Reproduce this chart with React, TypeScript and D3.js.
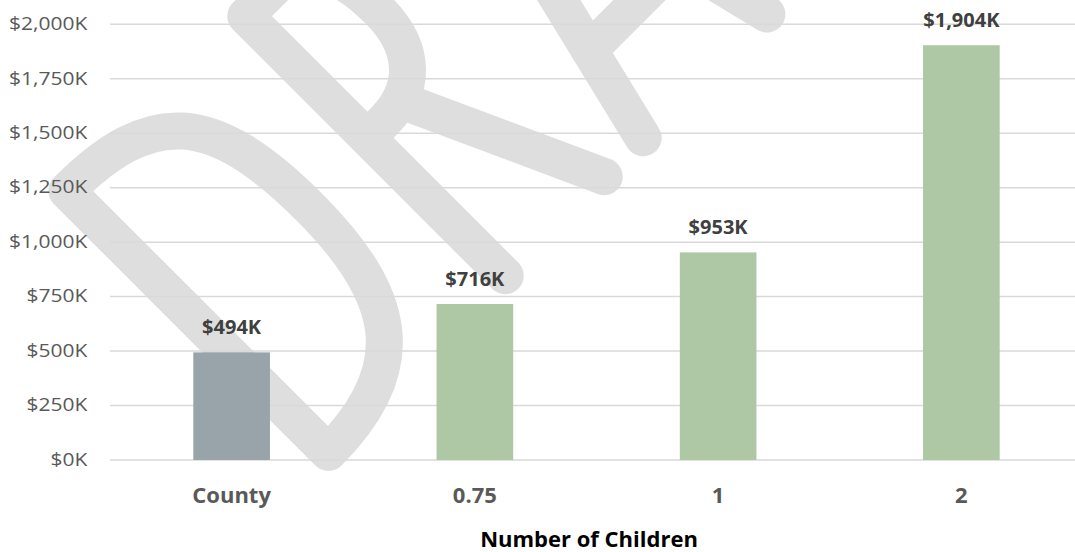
import React from "react";
import * as d3 from "d3";

const categories = ["County", "0.75", "1", "2"];
const values = [494, 716, 953, 1904]; // thousands of dollars
const barColors = ["#98A4A9", "#AEC7A4", "#AEC7A4", "#AEC7A4"];
const yTicks = [0, 250, 500, 750, 1000, 1250, 1500, 1750, 2000];
const xAxisTitle = "Number of Children";

// watermark strokes in a letter frame (u along reading direction, y = -height)
const watermarkStrokes = [
  "M0,-5 L0,-375 C118,-375 160,-330 160,-192 C160,-70 122,-5 0,-5 Z",
  "M250,-5 L250,-372 L292,-372 C338,-372 348,-325 348,-282 C348,-228 318,-200 274,-200 L250,-200",
  "M305,-192 L390,-5",
  "M445,-5 L532,-367 L620,-5",
  "M470,-105 L595,-105",
  "M700,-5 L700,-367 L805,-367",
  "M700,-200 L785,-200",
  "M840,-367 L985,-367",
  "M912,-367 L912,-5",
];

const W = 1075;
const H = 552;

export default function App() {
  const y = d3.scaleLinear().domain([0, 2000]).range([460, 24.3]);
  const x = d3
    .scaleBand<string>()
    .domain(categories)
    .range([110, 1083])
    .paddingInner(0.685)
    .paddingOuter(0.3425);
  const fmt = (v: number) => "$" + d3.format(",")(v) + "K";
  const font = "'Open Sans', 'Noto Sans', sans-serif";

  return (
    <svg
      width={W}
      height={H}
      style={{ position: "absolute", left: 0, top: 0, background: "#fff" }}
    >
      <rect x={0} y={0} width={W} height={H} fill="#ffffff" />
      {/* watermark */}
      <g transform="translate(332,456) rotate(-45)">
        {watermarkStrokes.map((d, i) => (
          <path
            key={i}
            d={d}
            fill="none"
            stroke="#dedede"
            strokeWidth={37}
            strokeLinecap="round"
            strokeLinejoin="round"
          />
        ))}
      </g>
      {/* gridlines */}
      {yTicks.map((t) => (
        <line
          key={t}
          x1={110}
          x2={W}
          y1={y(t)}
          y2={y(t)}
          stroke="#d9d9d9"
          strokeWidth={1.5}
        />
      ))}
      {/* y tick labels */}
      {yTicks.map((t) => (
        <text
          key={"l" + t}
          transform={`translate(87.3,${y(t) + 5.8}) scale(1.2,1)`}
          textAnchor="end"
          fontFamily={font}
          fontSize={17.5}
          fill="#595959"
        >
          {fmt(t)}
        </text>
      ))}
      {/* bars */}
      {categories.map((c, i) => (
        <rect
          key={c}
          x={x(c)}
          y={y(values[i])}
          width={x.bandwidth()}
          height={y(0) - y(values[i])}
          fill={barColors[i]}
        />
      ))}
      {/* value labels */}
      {categories.map((c, i) => (
        <text
          key={"v" + c}
          x={(x(c) as number) + x.bandwidth() / 2}
          y={y(values[i]) - 18}
          textAnchor="middle"
          fontFamily={font}
          fontWeight={700}
          fontSize={20}
          fill="#404040"
        >
          {fmt(values[i])}
        </text>
      ))}
      {/* x labels */}
      {categories.map((c) => (
        <text
          key={"x" + c}
          x={(x(c) as number) + x.bandwidth() / 2}
          y={502.5}
          textAnchor="middle"
          fontFamily={font}
          fontWeight={700}
          fontSize={22}
          fill="#595959"
        >
          {c}
        </text>
      ))}
      <text
        x={589}
        y={547}
        textAnchor="middle"
        fontFamily={font}
        fontWeight={700}
        fontSize={22}
        fill="#000000"
      >
        {xAxisTitle}
      </text>
    </svg>
  );
}
